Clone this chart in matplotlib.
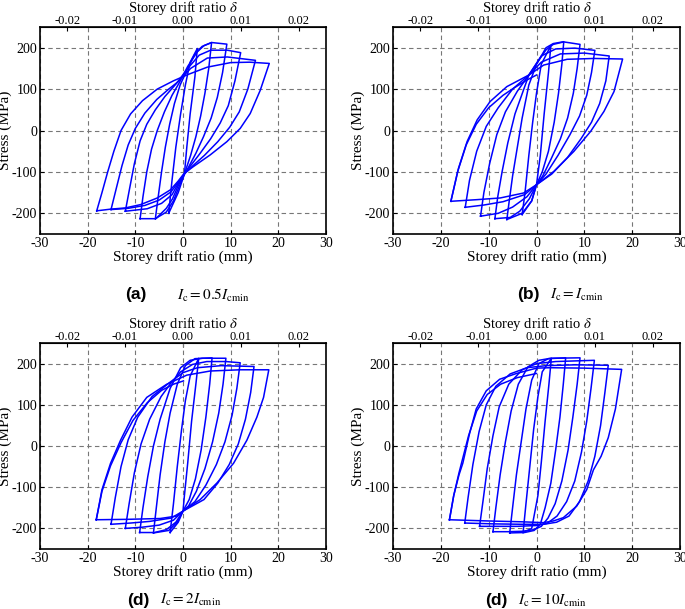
import matplotlib
matplotlib.use("Agg")
import matplotlib.pyplot as plt

plt.rcParams['font.family'] = ['Liberation Serif', 'DejaVu Serif']
plt.rcParams['mathtext.fontset'] = 'stix'
plt.rcParams['axes.unicode_minus'] = False

# storey height used for the top drift-ratio axis (mm)
H = 1215.0

x_ticks = [-30, -20, -10, 0, 10, 20, 30]
y_ticks = [-200, -100, 0, 100, 200]
ratio_ticks = [-0.02, -0.01, 0.0, 0.01, 0.02]

# ---- (a) Ic = 0.5 Icmin : one closed loop per amplitude (3..18 mm)
a_x = [
    [-3, -2.3, -1.5, -0.5, 0.5, 1.5, 3, 2.5, 1.5, 0.8, 0.3, -1, -3],
    [-5.8, -5.2, -4.5, -3.7, -2.8, -1.8, -0.6, 1, 2.5, 4, 6, 5.4, 4.6, 3.7, 2.7, 1.6, 0.3, -0.8, -2, -3.5, -5.8],
    [-9, -8.4, -7.6, -6.6, -5.4, -3.9, -2.3, -0.8, 1, 3, 4.4, 6, 9.2, 8.3, 7.2, 5.9, 4.3, 2.7, 1.1, 0.3, -1, -2.2, -3.5, -5, -5.7, -9],
    [-12.1, -11.2, -10.2, -9, -7.6, -5.8, -3.8, -1.5, 1, 3.4, 5.8, 9.3, 12.1, 10.9, 9.5, 7.8, 5.8, 3.6, 1.4, 0.3, -1, -2.3, -4.5, -7.5, -12.1],
    [-15.1, -14, -12.8, -11.5, -10, -8, -5.5, -3, -1, 1.6, 5.1, 9.3, 15.2, 13.6, 11.8, 9.8, 7.3, 4.5, 1.8, 0.3, -1, -2.5, -5, -8, -11.5, -15.1],
    [-18.1, -17, -15.8, -14.5, -13, -11, -8.5, -5.4, -2, 1, 5.1, 10, 14, 18.1, 16.2, 14.1, 12, 9.2, 5.7, 2.2, 0.2, -1, -2.6, -5.4, -8.9, -12.1, -15.2, -18.1],
]
a_y = [
    [-200, -120, -40, 40, 110, 165, 198, 130, 40, -40, -105, -150, -200],
    [-213, -160, -100, -40, 15, 65, 110, 150, 185, 203, 212.5, 150, 90, 35, -15, -60, -105, -135, -170, -197, -213],
    [-213, -160, -100, -45, 0, 45, 85, 115, 155, 190, 205, 212.5, 208.6, 140, 80, 30, -15, -55, -90, -105, -133, -165, -188, -205, -213, -213],
    [-195, -140, -80, -25, 15, 50, 82, 112, 150, 182, 194, 194, 188, 120, 60, 18, -20, -55, -88, -105, -128, -155, -176, -189, -195],
    [-191, -140, -85, -35, 5, 42, 75, 100, 118, 150, 175, 177.6, 169.5, 100, 45, 8, -27, -60, -88, -105, -125, -148, -168, -181, -188, -191],
    [-194, -150, -100, -50, 0, 40, 72, 100, 120, 135, 153, 164, 165, 162, 97, 41, 5, -27, -59, -87, -104, -122, -143, -163, -179, -187, -190, -194],
]

# ---- (b) Ic = Icmin
b_x = [
    [-3, -2.4, -1.6, -0.8, 0, 1, 3, 2.5, 1.6, 0.8, 0, -1, -3],
    [-6.2, -5.7, -5, -4, -3, -1.6, 0, 2, 3.5, 5.7, 5.3, 4.6, 3.7, 2.5, 1.2, 0, -1, -3, -6.2],
    [-8.7, -8.1, -7.2, -6, -4.5, -1.6, 0.5, 2, 3.5, 5.7, 9.1, 8.5, 7.7, 6.5, 5, 3, 1.3, 0, -1.5, -3.5, -5.5, -8.7],
    [-11.7, -11, -9.8, -8.3, -6.5, -4, -1.6, 1, 4, 8, 12.2, 11.5, 10.5, 9, 7, 4.5, 2, 0, -2, -5, -8, -11.7],
    [-14.9, -14, -12.5, -10.5, -8, -5, -1.6, 1, 5, 10, 15.2, 14.5, 13.2, 11.5, 9.3, 6.5, 3.2, 0, -2.5, -7, -11, -14.9],
    [-17.9, -16.3, -14.5, -12.4, -9.7, -6.2, -1.6, 1.5, 6.4, 12, 18, 16.2, 14.1, 11.3, 7.8, 3.6, 0, -2.7, -7.6, -12.4, -17.9],
    [-17.9, -16.5, -14.7, -12.6, -10, -7, -4.8, -2, 0],
]
b_y = [
    [-203, -150, -60, 20, 90, 160, 205, 140, 40, -60, -131, -170, -203],
    [-215, -170, -110, -40, 30, 110, 160, 200, 210, 214.5, 160, 90, 20, -50, -100, -131, -170, -200, -215],
    [-213, -160, -100, -30, 40, 134, 170, 195, 208, 214, 208, 150, 90, 30, -20, -70, -110, -131, -165, -195, -210, -213],
    [-207, -150, -80, -10, 45, 95, 134, 180, 197, 199, 193.6, 140, 85, 35, -10, -60, -105, -131, -160, -185, -200, -207],
    [-185.5, -120, -50, 10, 55, 100, 134, 165, 185, 187, 180, 120, 65, 20, -20, -65, -105, -131, -155, -172, -180, -185.5],
    [-171, -91, -26.5, 25.7, 70, 106, 134, 158, 172, 174, 172.7, 94, 46, -2.4, -50.6, -99, -131, -151, -163, -167, -171],
    [-171, -100, -35, 15, 55, 85, 102, 122, 134],
]

# ---- (c) Ic = 2 Icmin
c_x = [
    [-2.7, -2, -1.2, -0.3, 0.5, 1.5, 3.3, 2.7, 1.8, 1, 0.3, 0, -1, -2.7],
    [-6.2, -5.6, -4.8, -3.8, -2.7, -1.2, 0.5, 2.5, 6.1, 5.6, 4.8, 3.8, 2.6, 1.3, 0, -1.2, -3, -6.2],
    [-9.1, -8.4, -7.4, -6.2, -4.8, -2.7, -0.5, 1.5, 4, 9, 8.4, 7.5, 6.2, 4.6, 2.8, 1.2, 0, -1.5, -3.5, -6, -9.1],
    [-12.1, -11.3, -10.2, -8.8, -7, -4.6, -2.7, -0.5, 2, 5, 9, 12, 11.3, 10.3, 8.8, 7, 4.8, 2.5, 0, -2, -5, -8.5, -12.1],
    [-15.1, -14.2, -13, -11.5, -9.5, -6.5, -2.7, 0, 3, 8, 14.9, 14.2, 13.1, 11.6, 9.7, 7.3, 4.4, 0, -2.5, -7, -11, -15.1],
    [-18.2, -17, -15.2, -13.1, -10.7, -7.6, -3.4, 0.8, 5.7, 12, 18, 16.9, 15.5, 13.4, 10.6, 7.1, 3.6, 0, -1.3, -4.8, -11.7, -18.2],
    [-18.2, -17, -15.2, -13, -10.5, -7.5, -4.5, -2, 0.1],
]
c_y = [
    [-210, -140, -50, 40, 110, 170, 213, 150, 60, -40, -120, -158, -185, -210],
    [-211, -150, -70, 10, 80, 150, 195, 212, 214, 150, 70, -10, -80, -130, -158, -185, -205, -211],
    [-210, -150, -75, 0, 65, 140, 190, 208, 213, 213, 150, 80, 10, -55, -110, -145, -158, -185, -203, -210, -210],
    [-200, -140, -65, 5, 65, 120, 150, 180, 198, 205, 205, 202, 140, 75, 10, -45, -95, -135, -158, -180, -192, -197, -200],
    [-190, -125, -50, 15, 70, 120, 155, 178, 190, 195, 193, 130, 65, 5, -45, -90, -130, -158, -175, -183, -187, -190],
    [-179, -106, -42, 14, 70, 118, 150, 172, 182, 185, 185, 118, 70, 14, -42, -90, -130, -158, -170, -176, -178, -179],
    [-179, -110, -48, 8, 62, 105, 135, 150, 158],
]

# ---- (d) Ic = 10 Icmin
d_x = [
    [-2.8, -2.2, -1.4, -0.6, 0.3, 1.2, 3.1, 2.6, 1.8, 1, 0.3, -1, -2.8],
    [-5.6, -5, -4.2, -3.2, -2.2, -1, 0.5, 2.5, 6.1, 5.6, 4.9, 4, 3, 1.8, 0.8, -0.5, -2.5, -5.6],
    [-9.1, -8.5, -7.6, -6.5, -5.3, -3.8, -1.8, 0.5, 3, 9.1, 8.5, 7.6, 6.6, 5.3, 3.9, 2.4, 1, -0.5, -3, -6, -9.1],
    [-11.9, -11.2, -10.3, -9.1, -7.8, -5.8, -3, 0, 4, 12.1, 11.4, 10.5, 9.4, 8, 6.3, 4.3, 2.2, 0, -4, -8, -11.9],
    [-15, -14.3, -13.3, -12, -10.5, -8.5, -5.5, -2, 2, 8, 15, 14.3, 13.4, 12.2, 10.8, 9, 6.8, 4.2, 1.5, -3, -9, -15],
    [-18.2, -17.3, -16.2, -15.4, -14, -12.6, -10.5, -7.7, -4.2, 0, 2.8, 10, 17.8, 16.5, 15, 13.5, 11.9, 10.5, 8.4, 5.6, 3.5, 1.4, -3, -10, -18.2],
    [-18.2, -17.3, -16.2, -14.2, -12.5, -10.3, -7.5, -4, 0],
]
d_y = [
    [-210, -140, -50, 40, 120, 180, 213, 150, 60, -40, -120, -200, -210],
    [-211, -150, -70, 10, 90, 160, 200, 212, 214, 150, 70, -10, -90, -150, -190, -205, -210, -211],
    [-208, -150, -70, 10, 85, 150, 192, 208, 213, 214, 150, 70, -10, -85, -140, -175, -195, -203, -207, -208, -208],
    [-195, -135, -55, 25, 95, 150, 185, 200, 205, 208, 140, 60, -15, -85, -135, -170, -188, -193, -195, -195, -195],
    [-187, -125, -45, 35, 100, 145, 175, 190, 195, 197, 196, 130, 50, -25, -85, -135, -170, -185, -190, -190, -189, -187],
    [-179, -120, -70, -41.6, 30, 90, 134, 162, 176, 189, 190, 189, 186, 90, 20, -25, -58, -106, -146, -174, -182, -186, -184, -182, -179],
    [-179, -120, -65, 25, 85, 125, 150, 166, 176],
]

panels = [
    ([40/685, 1-234/609, 286/685, 207/609], a_x, a_y, '(a)', r'$I_{\mathrm{c}} = 0.5I_{\mathrm{cmin}}$', 147, 177, 295),
    ([393/685, 1-234/609, 287/685, 207/609], b_x, b_y, '(b)', r'$I_{\mathrm{c}} = I_{\mathrm{cmin}}$', 540, 550, 295),
    ([40/685, 1-549/609, 286/685, 206/609], c_x, c_y, '(d)', r'$I_{\mathrm{c}} = 2I_{\mathrm{cmin}}$', 150, 160, 600),
    ([393/685, 1-549/609, 287/685, 206/609], d_x, d_y, '(d)', r'$I_{\mathrm{c}} = 10I_{\mathrm{cmin}}$', 508, 518, 600),
]

fig = plt.figure(figsize=(6.85, 6.09), dpi=100)

for rect, xs, ys, tag, formula, tag_x, form_x, cap_y in panels:
    ax = fig.add_axes(rect)
    for lx, ly in zip(xs, ys):
        ax.plot(lx, ly, color='#0000ff', lw=1.1)
    ax.set_xlim(-30, 30)
    ax.set_ylim(-250, 250)
    ax.set_xticks(x_ticks)
    ax.set_yticks(y_ticks)
    ax.grid(True, color='#777777', ls=(0, (4, 3)), lw=0.8)
    ax.tick_params(direction='in', labelsize=10, length=3, width=0.8, pad=2)
    for s in ax.spines.values():
        s.set_linewidth(1.2)
    ax.set_xlabel('Storey drift ratio (mm)', fontsize=11, labelpad=0)
    ax.set_ylabel('Stress (MPa)', fontsize=11)
    ax.yaxis.set_label_coords(-28/286, 0.5)

    top = ax.secondary_xaxis('top', functions=(lambda v: v / H, lambda r: r * H))
    top.set_xticks(ratio_ticks)
    top.set_xticklabels(['%.2f' % r for r in ratio_ticks])
    top.tick_params(direction='in', labelsize=9, length=3, width=0.8, pad=0)
    top.set_xlabel(r'Storey drift ratio $\delta$', fontsize=10.5, labelpad=2.5)

    fig.text(tag_x/685, 1-cap_y/609, tag, fontsize=12.5, fontweight='bold',
             family=['Liberation Sans', 'DejaVu Sans'], ha='right', va='center')
    fig.text(form_x/685, 1-cap_y/609, formula, fontsize=11, ha='left', va='center')

fig.savefig('out.png', dpi=100)
